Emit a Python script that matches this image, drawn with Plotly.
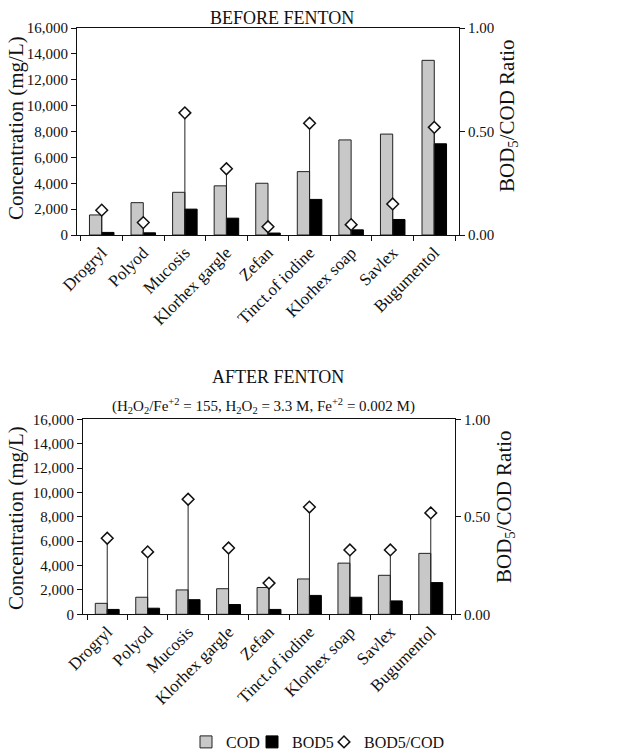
import plotly.graph_objects as go

categories = ["Drogryl", "Polyod", "Mucosis", "Klorhex gargle", "Zefan",
              "Tinct.of iodine", "Klorhex soap", "Savlex", "Bugumentol"]

before_cod = [1550, 2500, 3300, 3800, 4000, 4900, 7350, 7800, 13500]
before_bod5 = [200, 170, 2000, 1300, 150, 2750, 400, 1200, 7050]
before_ratio = [0.12, 0.06, 0.59, 0.32, 0.04, 0.54, 0.05, 0.15, 0.52]

after_cod = [900, 1400, 2000, 2100, 2200, 2900, 4200, 3200, 5000]
after_bod5 = [400, 500, 1200, 800, 400, 1550, 1400, 1100, 2600]
after_ratio = [0.39, 0.32, 0.59, 0.34, 0.16, 0.55, 0.33, 0.33, 0.52]

left_ticks = [0, 2000, 4000, 6000, 8000, 10000, 12000, 14000, 16000]
right_ticks = [0, 0.5, 1.0]

W, H = 639, 755
FONT = "Liberation Serif, Times New Roman, serif"
COD_COLOR = "#c8c8c8"
BOD_COLOR = "#000000"

fig = go.Figure()


def add_panel(cod, bod, ratio, xa, ya, ya2, show):
    fig.add_trace(go.Bar(x=categories, y=cod, name="COD", xaxis=xa, yaxis=ya,
                         marker=dict(color=COD_COLOR, line=dict(color="#222", width=1)),
                         showlegend=show, legend="legend"))
    fig.add_trace(go.Bar(x=categories, y=bod, name="BOD5", xaxis=xa, yaxis=ya,
                         marker=dict(color=BOD_COLOR, line=dict(color="#000", width=1)),
                         showlegend=show, legend="legend2"))
    fig.add_trace(go.Scatter(x=categories, y=ratio, name="BOD5/COD", xaxis=xa, yaxis=ya2,
                             mode="markers",
                             marker=dict(symbol="diamond", size=9, color="white",
                                         line=dict(color="#111", width=1.5)),
                             error_y=dict(type="data", symmetric=False,
                                          array=[0] * len(ratio), arrayminus=ratio,
                                          thickness=1, width=0, color="#222"),
                             showlegend=show, legend="legend3"))


add_panel(before_cod, before_bod5, before_ratio, "x", "y", "y2", True)
add_panel(after_cod, after_bod5, after_ratio, "x2", "y3", "y4", False)

tickfont = dict(family=FONT, size=15, color="#111")
xtickfont = dict(family=FONT, size=17, color="#111")


def xaxis_cfg(dom, anchor):
    return dict(domain=dom, anchor=anchor, type="category", tickangle=-45,
                tickfont=xtickfont, showline=True, linecolor="#111", linewidth=1,
                mirror=True, ticks="outside", ticklen=5, tickcolor="#111",
                tickson="boundaries", showgrid=False, zeroline=False, automargin=False)


def yleft_cfg(dom, anchor):
    return dict(domain=dom, anchor=anchor, range=[0, 16000], tickvals=left_ticks,
                tickformat=",d", tickfont=tickfont, showline=True, linecolor="#111",
                linewidth=1, ticks="outside", ticklen=5, tickcolor="#111",
                showgrid=False, zeroline=False, automargin=False)


def yright_cfg(overlay, anchor):
    return dict(overlaying=overlay, anchor=anchor, side="right", range=[0, 1],
                tickvals=right_ticks, tickformat=".2f", tickfont=tickfont,
                showline=True, linecolor="#111", linewidth=1, ticks="outside",
                ticklen=5, tickcolor="#111", showgrid=False, zeroline=False,
                automargin=False)


top_dom_y = [1 - 235 / H, 1 - 28 / H]
bot_dom_y = [1 - 614.3 / H, 1 - 419.3 / H]


def legend_cfg(xpx):
    return dict(orientation="h", x=xpx / W, xanchor="left", y=1 - 742 / H,
                yanchor="middle", font=dict(family=FONT, size=16, color="#111"),
                itemwidth=30, bgcolor="rgba(0,0,0,0)", borderwidth=0)


fig.update_layout(
    width=W, height=H,
    margin=dict(l=0, r=0, t=0, b=0, autoexpand=False),
    paper_bgcolor="white", plot_bgcolor="white",
    barmode="group", bargap=0.41, bargroupgap=0,
    font=dict(family=FONT, color="#111"),
    xaxis=xaxis_cfg([77 / W, 459 / W], "y"),
    xaxis2=xaxis_cfg([83 / W, 455 / W], "y3"),
    yaxis=yleft_cfg(top_dom_y, "x"),
    yaxis2=yright_cfg("y", "x"),
    yaxis3=yleft_cfg(bot_dom_y, "x2"),
    yaxis4=yright_cfg("y3", "x2"),
    legend=legend_cfg(186),
    legend2=legend_cfg(252),
    legend3=legend_cfg(324),
    showlegend=True,
)

annots = [
    dict(text="BEFORE FENTON", x=282 / W, y=1 - 18 / H, size=18),
    dict(text="AFTER FENTON", x=278 / W, y=1 - 377 / H, size=18),
    dict(text="(H<sub>2</sub>O<sub>2</sub>/Fe<sup>+2</sup> = 155, H<sub>2</sub>O<sub>2</sub> = 3.3 M, Fe<sup>+2</sup> = 0.002 M)",
         x=263 / W, y=1 - 406 / H, size=15),
]
for a in annots:
    fig.add_annotation(text=a["text"], x=a["x"], y=a["y"], xref="paper", yref="paper",
                       xanchor="center", yanchor="middle", showarrow=False,
                       font=dict(family=FONT, size=a["size"], color="#111"))

for (xc, yc) in [(16, 128), (16, 518)]:
    fig.add_annotation(text="Concentration (mg/L)", x=xc / W, y=1 - yc / H, xref="paper",
                       yref="paper", xanchor="center", yanchor="middle", textangle=-90,
                       showarrow=False, font=dict(family=FONT, size=21, color="#111"))
for (xc, yc) in [(508, 116), (505, 507)]:
    fig.add_annotation(text="BOD<sub>5</sub>/COD Ratio", x=xc / W, y=1 - yc / H, xref="paper",
                       yref="paper", xanchor="center", yanchor="middle", textangle=-90,
                       showarrow=False, font=dict(family=FONT, size=21, color="#111"))

fig.write_html("out.html")
